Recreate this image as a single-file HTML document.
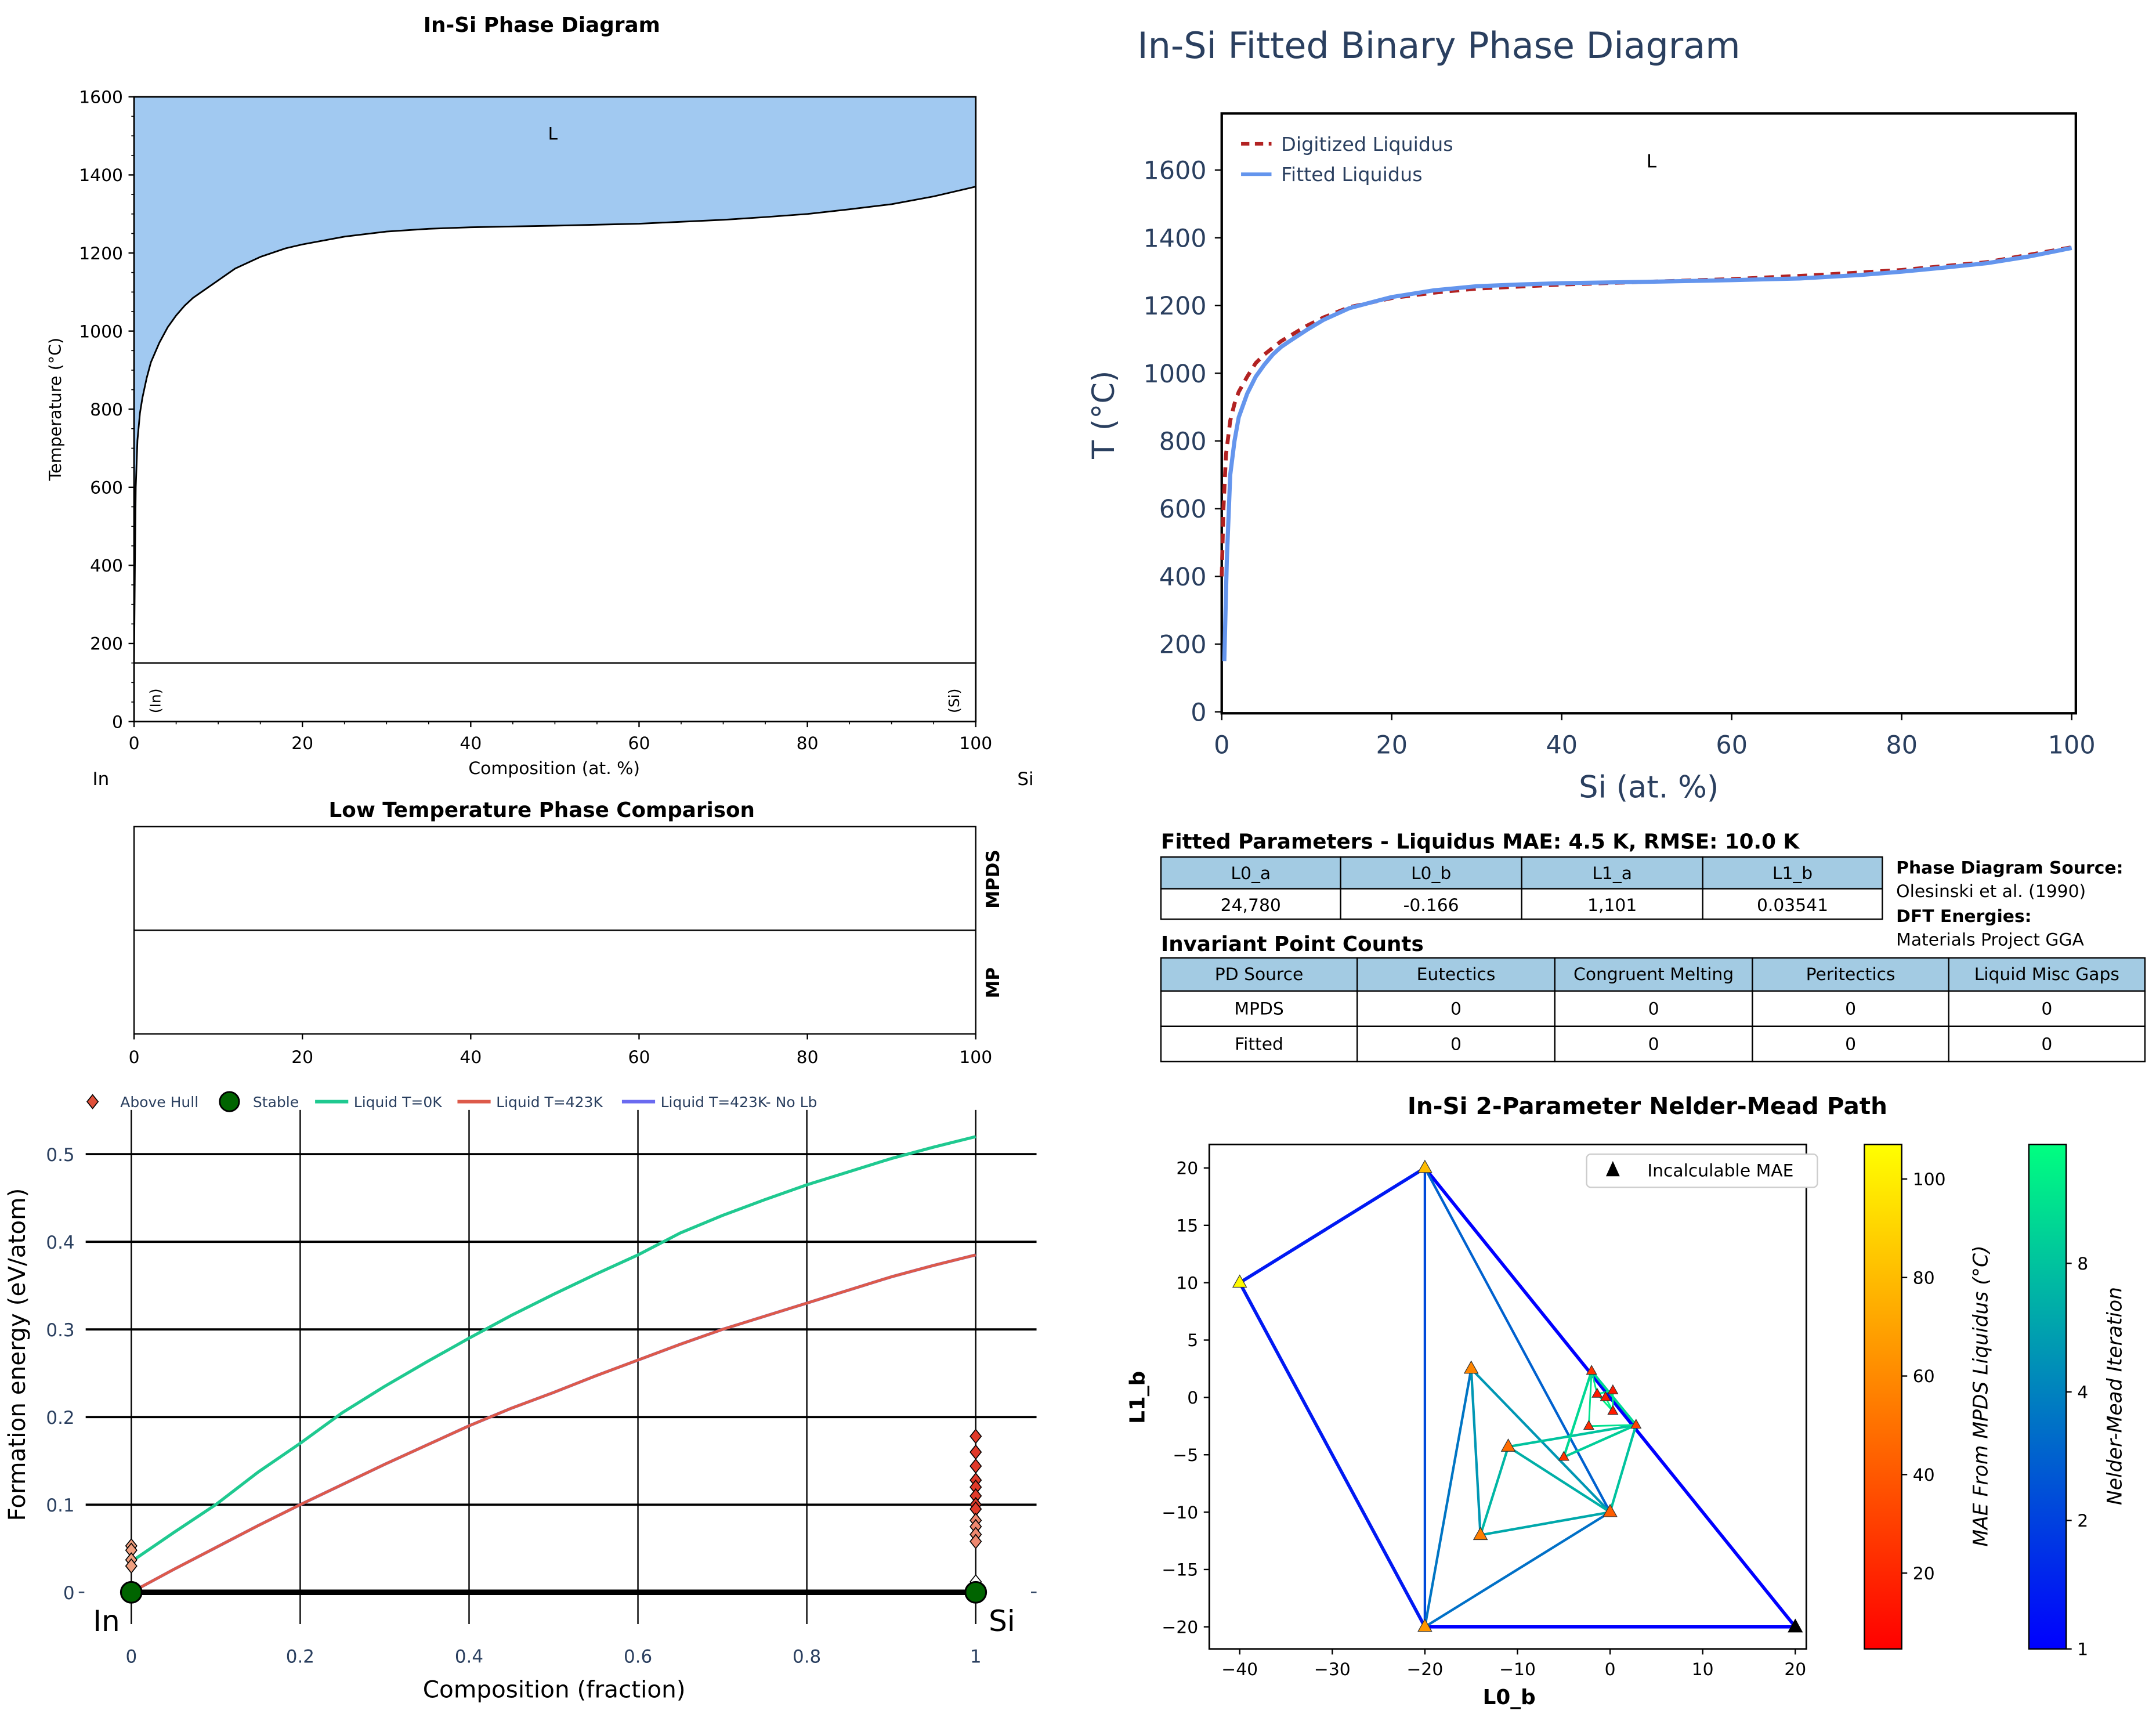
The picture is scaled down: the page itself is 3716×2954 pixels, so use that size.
<!DOCTYPE html>
<html><head><meta charset="utf-8"><style>
html,body{margin:0;padding:0;background:#fff;}
svg{display:block;}
text{font-family:"DejaVu Sans","Liberation Sans",sans-serif;}
polyline{stroke-linejoin:round;}
</style></head><body>
<svg id="root" width="3716" height="2954" viewBox="0 0 1560 1240" xmlns="http://www.w3.org/2000/svg">
<defs>
<linearGradient id="autumn" x1="0" y1="1" x2="0" y2="0"><stop offset="0" stop-color="#ff0000"/><stop offset="1" stop-color="#ffff00"/></linearGradient>
<linearGradient id="winter" x1="0" y1="1" x2="0" y2="0"><stop offset="0" stop-color="#0000ff"/><stop offset="1" stop-color="#00ff80"/></linearGradient>
</defs>
<g id="g1"></g>
<g id="g2"></g>
<g id="g3"></g>
<g id="g4"></g>
<g id="g5"></g>
<g id="g6"></g>
</svg>
<script>
// ---- data ----
const liqX = [0, 0.1, 0.2, 0.4, 0.7, 1, 1.5, 2, 3, 4, 5, 6, 7, 8, 10, 12, 15, 18, 20, 25, 30, 35, 40, 50, 60, 70, 75, 80, 85, 90, 95, 100];
const liqT = [150, 400, 600, 720, 790, 830, 880, 920, 970, 1010, 1040, 1065, 1085, 1100, 1130, 1160, 1190, 1212, 1222, 1242, 1255, 1262, 1266, 1270, 1275, 1285, 1292, 1300, 1312, 1325, 1345, 1370];
const digX = [0, 0.2, 0.5, 1, 1.5, 2, 3, 4, 5, 7, 10, 12, 15, 20, 25, 30, 40, 50, 60, 70, 80, 90, 100];
const digT = [400, 600, 760, 860, 910, 945, 990, 1030, 1055, 1095, 1140, 1165, 1195, 1222, 1238, 1250, 1262, 1270, 1278, 1290, 1305, 1328, 1372];
const fitX = [0.3, 0.6, 1, 1.5, 2, 3, 4, 5, 6, 7, 8, 10, 12, 15, 18, 20, 25, 30, 35, 40, 50, 60, 68, 75, 80, 85, 90, 95, 100];
const fitT = [150, 450, 700, 800, 870, 940, 990, 1025, 1055, 1078, 1095, 1128, 1158, 1192, 1212, 1225, 1245, 1257, 1262, 1266, 1270, 1275, 1280, 1290, 1300, 1312, 1325, 1345, 1370];
const phaseTicksT = [0, 200, 400, 600, 800, 1000, 1200, 1400, 1600];
const compTicks = [0, 20, 40, 60, 80, 100];
const fracX = [0, 0.05, 0.1, 0.15, 0.2, 0.25, 0.3, 0.35, 0.4, 0.45, 0.5, 0.55, 0.6, 0.65, 0.7, 0.75, 0.8, 0.85, 0.9, 0.95, 1.0];
const liq0K = [0.035, 0.068, 0.1, 0.137, 0.17, 0.205, 0.235, 0.263, 0.29, 0.316, 0.34, 0.363, 0.385, 0.41, 0.43, 0.448, 0.465, 0.48, 0.495, 0.508, 0.52];
const liq423 = [0, 0.026, 0.051, 0.076, 0.1, 0.123, 0.146, 0.168, 0.19, 0.21, 0.228, 0.247, 0.265, 0.283, 0.3, 0.315, 0.33, 0.345, 0.36, 0.373, 0.385];
const hullIn = [0.053, 0.048, 0.037, 0.03];
const hullSi = [0.178, 0.16, 0.144, 0.128, 0.12, 0.11, 0.1, 0.095, 0.082, 0.075, 0.066, 0.058];
const energyTicks = [0, 0.1, 0.2, 0.3, 0.4, 0.5];
const fracTicks = [0, 0.2, 0.4, 0.6, 0.8, 1];
const nmPtsX = [-20, -40, -20, -15, -11, -14, 0, -2, 2.8, -5, -2.3, -1.4, 0.3, 0.3, -0.5];
const nmPtsY = [20, 10, -20, 2.5, -4.3, -12, -10, 2.3, -2.4, -5.2, -2.5, 0.3, 0.6, -1.2, 0];
const nmPtsMAE = [80, 105, 65, 58, 48, 55, 42, 25, 30, 25, 22, 15, 15, 15, 15];
const nmSegA = [[-40,10],[-20,20],[-20,-20],[-40,10],[-20,20],[-20,20],[-20,-20],[-20,-20],[-15,2.5],[-15,2.5],[-14,-12],[-14,-12],[-11,-4.3],[-11,-4.3],[0,-10],[-5,-5.2],[-5,-5.2],[-2,2.3],[-2,2.3],[-2.3,-2.5],[-2,2.3],[-1.4,0.3],[0.3,0.6],[-1.4,0.3],[0.3,-1.2]];
const nmSegB = [[-20,20],[20,-20],[20,-20],[-20,-20],[-20,-20],[0,-10],[0,-10],[-15,2.5],[0,-10],[-14,-12],[0,-10],[-11,-4.3],[0,-10],[2.8,-2.4],[2.8,-2.4],[2.8,-2.4],[-2,2.3],[2.8,-2.4],[-2.3,-2.5],[2.8,-2.4],[-1.4,0.3],[0.3,0.6],[0.3,-1.2],[0.3,-1.2],[-0.5,0]];
const nmSegIter = [1.3,1,1,1.3,2.2,2.8,3.3,3.5,5,5,6,7,6.5,8,8,9,10,10,11,11,12,12,13,13,14];
const nmTicksX = [-40, -30, -20, -10, 0, 10, 20];
const nmTicksY = [-20, -15, -10, -5, 0, 5, 10, 15, 20];
const maeTicks = [20, 40, 60, 80, 100];
const iterTicks = [1, 2, 4, 8];
const params = ["L0_a","L0_b","L1_a","L1_b"];
const paramVals = ["24,780","-0.166","1,101","0.03541"];
const invHead = ["PD Source","Eutectics","Congruent Melting","Peritectics","Liquid Misc Gaps"];
const invRows = [["MPDS","0","0","0","0"],["Fitted","0","0","0","0"]];

const NS = "http://www.w3.org/2000/svg";
function mk(parent, tag, attrs, txt){
  const e = document.createElementNS(NS, tag);
  for (const k in attrs) e.setAttribute(k, attrs[k]);
  if (txt !== undefined) e.textContent = txt;
  parent.appendChild(e); return e;
}
function pts(xs, ys, fx, fy){ return xs.map((v,i)=>fx(v).toFixed(2)+","+fy(ys[i]).toFixed(2)).join(" "); }

// ---- Panel 1 ----
(function(){
  const g = document.getElementById('g1');
  const x = v => 97 + v*6.09, y = t => 522 - t*0.2825;
  let e = mk(g,'text',{x:392,y:23,'text-anchor':'middle','font-size':15,'font-weight':'bold'},'In-Si Phase Diagram');
   
  let d = 'M'+x(0)+','+y(1600)+' L'+pts(liqX,liqT,x,y).replace(/ /g,' L')+' L'+x(100)+','+y(1600)+' Z';
  e = mk(g,'path',{d:d,fill:'#a1c9f1',stroke:'none'});
   
  e = mk(g,'polyline',{points:pts(liqX,liqT,x,y),fill:'none',stroke:'#000','stroke-width':1.2});
   
  e = mk(g,'line',{x1:x(0),x2:x(100),y1:y(150),y2:y(150),stroke:'#000','stroke-width':1});
   
  e = mk(g,'rect',{x:97,y:70,width:609,height:452,fill:'none',stroke:'#000','stroke-width':1.2});
   
  phaseTicksT.forEach(t=>{
    mk(g,'line',{x1:93,x2:97,y1:y(t),y2:y(t),stroke:'#000'});
    e = mk(g,'text',{x:89,y:y(t)+4.5,'text-anchor':'end','font-size':12.5},String(t));
     
  });
  for(let t=50;t<1600;t+=50){ if(t%200) mk(g,'line',{x1:95,x2:97,y1:y(t),y2:y(t),stroke:'#000','stroke-width':0.7}); }
  compTicks.forEach(c=>{
    mk(g,'line',{x1:x(c),x2:x(c),y1:522,y2:526,stroke:'#000'});
    e = mk(g,'text',{x:x(c),y:542,'text-anchor':'middle','font-size':12.5},String(c));
     
  });
  for(let c=5;c<100;c+=5){ if(c%20) mk(g,'line',{x1:x(c),x2:x(c),y1:522,y2:524,stroke:'#000','stroke-width':0.7}); }
  e = mk(g,'text',{x:401,y:560,'text-anchor':'middle','font-size':12.5},'Composition (at. %)');
   
  e = mk(g,'text',{x:44,y:296,'text-anchor':'middle','font-size':12,transform:'rotate(-90 44 296)'},'Temperature (°C)');
   
  e = mk(g,'text',{x:400,y:101,'text-anchor':'middle','font-size':12.5},'L');
   
  e = mk(g,'text',{x:116,y:507,'text-anchor':'middle','font-size':10.5,transform:'rotate(-90 116 507)'},'(In)');
   
  e = mk(g,'text',{x:694,y:507,'text-anchor':'middle','font-size':10.5,transform:'rotate(-90 694 507)'},'(Si)');
   
  e = mk(g,'text',{x:73,y:568,'text-anchor':'middle','font-size':13},'In');
   
  e = mk(g,'text',{x:742,y:568,'text-anchor':'middle','font-size':13},'Si');
   
})();

// ---- Panel 2 ----
(function(){
  const g = document.getElementById('g2');
  const c = '#2a3f5f';
  const x = v => 884 + v*6.15, y = t => 515 - t*0.245;
  let e = mk(g,'text',{x:823,y:42,'font-size':26,fill:c},'In-Si Fitted Binary Phase Diagram');
   
  e = mk(g,'rect',{x:884,y:82,width:618,height:434,fill:'#fff',stroke:'#000','stroke-width':1.8});
   
  phaseTicksT.forEach(t=>{
    mk(g,'line',{x1:879,x2:884,y1:y(t),y2:y(t),stroke:'#000'});
    e = mk(g,'text',{x:873,y:y(t)+6.5,'text-anchor':'end','font-size':18,fill:c},String(t));
     
  });
  compTicks.forEach(v=>{
    mk(g,'line',{x1:x(v),x2:x(v),y1:516,y2:521,stroke:'#000'});
    e = mk(g,'text',{x:x(v),y:545,'text-anchor':'middle','font-size':18,fill:c},String(v));
     
  });
  e = mk(g,'text',{x:1193,y:577,'text-anchor':'middle','font-size':22,fill:c},'Si (at. %)');
   
  e = mk(g,'text',{x:806,y:300,'text-anchor':'middle','font-size':22,fill:c,transform:'rotate(-90 806 300)'},'T (°C)');
   
  e = mk(g,'polyline',{points:pts(digX,digT,x,y),fill:'none',stroke:'#b22222','stroke-width':2.8,'stroke-dasharray':'7,5'});
   
  e = mk(g,'polyline',{points:pts(fitX,fitT,x,y),fill:'none',stroke:'#6495ed','stroke-width':3});
   
  e = mk(g,'text',{x:1195,y:121,'text-anchor':'middle','font-size':13},'L');
   
  mk(g,'line',{x1:898,x2:920,y1:104,y2:104,stroke:'#b22222','stroke-width':2.5,'stroke-dasharray':'6,4'});
  e = mk(g,'text',{x:927,y:109,'font-size':14,fill:c},'Digitized Liquidus');
   
  mk(g,'line',{x1:898,x2:920,y1:126,y2:126,stroke:'#6495ed','stroke-width':2.5});
  e = mk(g,'text',{x:927,y:131,'font-size':14,fill:c},'Fitted Liquidus');
   
})();

// ---- Panel 3 ----
(function(){
  const g = document.getElementById('g3');
  const x = v => 97 + v*6.09;
  let e = mk(g,'text',{x:392,y:591,'text-anchor':'middle','font-size':15,'font-weight':'bold'},'Low Temperature Phase Comparison');
   
  e = mk(g,'rect',{x:97,y:598,width:609,height:150,fill:'none',stroke:'#000','stroke-width':1});
   
  mk(g,'line',{x1:97,x2:706,y1:673,y2:673,stroke:'#000'});
  e = mk(g,'text',{x:723,y:636,'text-anchor':'middle','font-size':13,'font-weight':'bold',transform:'rotate(-90 723 636)'},'MPDS');
   
  e = mk(g,'text',{x:723,y:711,'text-anchor':'middle','font-size':13,'font-weight':'bold',transform:'rotate(-90 723 711)'},'MP');
   
  compTicks.forEach(v=>{
    mk(g,'line',{x1:x(v),x2:x(v),y1:748,y2:752,stroke:'#000'});
    e = mk(g,'text',{x:x(v),y:769,'text-anchor':'middle','font-size':12.5},String(v));
     
  });
})();

// ---- Panel 4 ----
(function(){
  const g = document.getElementById('g4');
  const c = '#2a3f5f';
  const x = v => 95 + v*611, y = v => 1152 - v*634;
  energyTicks.forEach(v=>{
    if(v>0){ let e = mk(g,'line',{x1:62,x2:750,y1:y(v),y2:y(v),stroke:'#000','stroke-width':1.6});
        }
    let e = mk(g,'text',{x:54,y:y(v)+5,'text-anchor':'end','font-size':13,fill:c},String(v));
     
  });
  mk(g,'line',{x1:57,x2:61,y1:y(0),y2:y(0),stroke:c});
  mk(g,'line',{x1:746,x2:750,y1:y(0),y2:y(0),stroke:c});
  fracTicks.forEach(v=>{
    let e = mk(g,'line',{x1:x(v),x2:x(v),y1:803,y2:1175,stroke:'#000','stroke-width':1});
     
    e = mk(g,'text',{x:x(v),y:1203,'text-anchor':'middle','font-size':13,fill:c},String(v));
     
  });
  let e = mk(g,'polyline',{points:pts(fracX,liq0K,x,y),fill:'none',stroke:'#1fc990','stroke-width':2.2});
   
  e = mk(g,'polyline',{points:pts(fracX,liq423,x,y),fill:'none',stroke:'#6a6af0','stroke-width':2.2});
   
  e = mk(g,'polyline',{points:pts(fracX,liq423,x,y),fill:'none',stroke:'#dd5a4a','stroke-width':2});
   
  e = mk(g,'line',{x1:x(0),x2:x(1),y1:y(0),y2:y(0),stroke:'#000','stroke-width':4});
   
  function dia(cx,cy,fill){ return mk(g,'path',{d:`M${cx},${cy-5} L${cx+4},${cy} L${cx},${cy+5} L${cx-4},${cy} Z`,fill:fill,stroke:'#000','stroke-width':0.7}); }
  hullIn.forEach(v=>{ let d = dia(x(0),y(v),'#f0a080');
      });
  hullSi.forEach((v,i)=>{ const f = v>0.09 ? '#e03a2a' : '#ee8870'; let d = dia(x(1),y(v),f);
      });
  e = dia(x(1),y(0.012),'#fff');
   
  [0,1].forEach(v=>{ let s = mk(g,'circle',{cx:x(v),cy:y(0),r:7.5,fill:'#006400',stroke:'#000','stroke-width':1.3});
      });
  e = mk(g,'text',{x:77,y:1180,'text-anchor':'middle','font-size':21},'In');
   
  e = mk(g,'text',{x:725,y:1180,'text-anchor':'middle','font-size':21},'Si');
   
  e = mk(g,'text',{x:401,y:1228,'text-anchor':'middle','font-size':17},'Composition (fraction)');
   
  e = mk(g,'text',{x:18,y:980,'text-anchor':'middle','font-size':17,transform:'rotate(-90 18 980)'},'Formation energy (eV/atom)');
   
  let d = dia(67,797,'#e0503a');  
  e = mk(g,'text',{x:87,y:801,'font-size':10.5,fill:c},'Above Hull');
   
  mk(g,'circle',{cx:166,cy:797,r:7,fill:'#006400',stroke:'#000','stroke-width':1.2});
  e = mk(g,'text',{x:183,y:801,'font-size':10.5,fill:c},'Stable');
   
  mk(g,'line',{x1:228,x2:252,y1:797,y2:797,stroke:'#1fc990','stroke-width':2.5});
  e = mk(g,'text',{x:256,y:801,'font-size':10.5,fill:c},'Liquid T=0K');
   
  mk(g,'line',{x1:331,x2:355,y1:797,y2:797,stroke:'#dd5a4a','stroke-width':2.5});
  e = mk(g,'text',{x:359,y:801,'font-size':10.5,fill:c},'Liquid T=423K');
   
  mk(g,'line',{x1:450,x2:474,y1:797,y2:797,stroke:'#6a6af0','stroke-width':2.5});
  e = mk(g,'text',{x:478,y:801,'font-size':10.5,fill:c},'Liquid T=423K- No Lb');
   
})();

// ---- Panel 5 tables ----
(function(){
  const g = document.getElementById('g5');
  const hb = '#a3cbe3';
  let e = mk(g,'text',{x:840,y:614,'font-size':15,'font-weight':'bold'},'Fitted Parameters - Liquidus MAE: 4.5 K, RMSE: 10.0 K');
   
  const c1 = [840,970,1101,1232,1362];
  params.forEach((p,i)=>{
    mk(g,'rect',{x:c1[i],y:620,width:c1[i+1]-c1[i],height:23,fill:hb,stroke:'#000','stroke-width':1});
    e = mk(g,'text',{x:(c1[i]+c1[i+1])/2,y:636,'text-anchor':'middle','font-size':12.5},p);
     
    mk(g,'rect',{x:c1[i],y:643,width:c1[i+1]-c1[i],height:22,fill:'#fff',stroke:'#000','stroke-width':1});
    e = mk(g,'text',{x:(c1[i]+c1[i+1])/2,y:659,'text-anchor':'middle','font-size':12.5},paramVals[i]);
     
  });
  e = mk(g,'text',{x:1372,y:632,'font-size':12.5,'font-weight':'bold'},'Phase Diagram Source:');
   
  e = mk(g,'text',{x:1372,y:649,'font-size':12.5},'Olesinski et al. (1990)');
   
  e = mk(g,'text',{x:1372,y:667,'font-size':12.5,'font-weight':'bold'},'DFT Energies:');
   
  e = mk(g,'text',{x:1372,y:684,'font-size':12.5},'Materials Project GGA');
   
  e = mk(g,'text',{x:840,y:688,'font-size':15,'font-weight':'bold'},'Invariant Point Counts');
   
  const c2 = [840,982,1125,1268,1410,1552];
  invHead.forEach((h,i)=>{
    mk(g,'rect',{x:c2[i],y:693,width:c2[i+1]-c2[i],height:24,fill:hb,stroke:'#000','stroke-width':1});
    e = mk(g,'text',{x:(c2[i]+c2[i+1])/2,y:709,'text-anchor':'middle','font-size':12.5},h);
     
  });
  invRows.forEach((r,j)=>{
    r.forEach((v,i)=>{
      const yy = 717 + j*25.5;
      mk(g,'rect',{x:c2[i],y:yy,width:c2[i+1]-c2[i],height:25.5,fill:'#fff',stroke:'#000','stroke-width':1});
      e = mk(g,'text',{x:(c2[i]+c2[i+1])/2,y:yy+17,'text-anchor':'middle','font-size':12.5},v);
       
    });
  });
})();

// ---- Panel 6 ----
(function(){
  const g = document.getElementById('g6');
  const x = v => 897 + (v+40)*6.7, y = v => 845 + (20-v)*8.3;
  const maeMin = 4.6, maeMax = 107;
  const maeY = m => 1193 - (m-maeMin)/(maeMax-maeMin)*365;
  const itY = it => 1193 - Math.log2(it)*93;
  const itTop = Math.pow(2, 365/93);
  const winter = it => { const t = Math.min(1, Math.log2(it)/Math.log2(itTop)); return `rgb(0,${Math.round(255*t)},${Math.round(255*(1-0.5*t))})`; };
  const autumn = m => { const t = Math.max(0,Math.min(1,(m-maeMin)/(maeMax-maeMin))); return `rgb(255,${Math.round(255*t)},0)`; };
  let e = mk(g,'text',{x:1192,y:806,'text-anchor':'middle','font-size':17,'font-weight':'bold'},'In-Si 2-Parameter Nelder-Mead Path');
   
  e = mk(g,'rect',{x:875,y:828,width:432,height:365,fill:'#fff',stroke:'#000','stroke-width':1.2});
   
  nmSegA.forEach((a,i)=>{
    const b = nmSegB[i];
    let s = mk(g,'line',{x1:x(a[0]),y1:y(a[1]),x2:x(b[0]),y2:y(b[1]),stroke:winter(nmSegIter[i]),'stroke-width':nmSegIter[i]<2?2.4:(nmSegIter[i]>10?1.2:1.8)});
     
  });
  nmPtsX.forEach((px,i)=>{
    const cx = x(px), cy = y(nmPtsY[i]), r = i<7 ? 5.5 : 4;
    let t = mk(g,'path',{d:`M${cx},${cy-r} L${cx+r*0.9},${cy+r*0.6} L${cx-r*0.9},${cy+r*0.6} Z`,fill:autumn(nmPtsMAE[i]),stroke:'#333','stroke-width':0.5});
     
  });
  const bx = x(20), by = y(-20);
  e = mk(g,'path',{d:`M${bx},${by-6} L${bx+5.5},${by+4} L${bx-5.5},${by+4} Z`,fill:'#000'});
   
  nmTicksX.forEach(v=>{
    mk(g,'line',{x1:x(v),x2:x(v),y1:1193,y2:1197,stroke:'#000'});
    e = mk(g,'text',{x:x(v),y:1212,'text-anchor':'middle','font-size':12.5},v<0?'\u2212'+(-v):String(v));
     
  });
  nmTicksY.forEach(v=>{
    mk(g,'line',{x1:871,x2:875,y1:y(v),y2:y(v),stroke:'#000'});
    e = mk(g,'text',{x:867,y:y(v)+4.5,'text-anchor':'end','font-size':12.5},v<0?'\u2212'+(-v):String(v));
     
  });
  e = mk(g,'text',{x:1092,y:1233,'text-anchor':'middle','font-size':15,'font-weight':'bold'},'L0_b');
   
  e = mk(g,'text',{x:828,y:1011,'text-anchor':'middle','font-size':15,'font-weight':'bold',transform:'rotate(-90 828 1011)'},'L1_b');
   
  e = mk(g,'rect',{x:1148,y:835,width:167,height:24,rx:3,fill:'#fff',stroke:'#ccc','stroke-width':1});
   
  mk(g,'path',{d:'M1167,840 L1172,851 L1162,851 Z',fill:'#000'});
  e = mk(g,'text',{x:1192,y:851,'font-size':12.5},'Incalculable MAE');
   
  e = mk(g,'rect',{x:1349,y:828,width:27,height:365,fill:'url(#autumn)',stroke:'#000','stroke-width':1});
   
  maeTicks.forEach(m=>{
    mk(g,'line',{x1:1376,x2:1380,y1:maeY(m),y2:maeY(m),stroke:'#000'});
    e = mk(g,'text',{x:1384,y:maeY(m)+4.5,'font-size':12.5},String(m));
     
  });
  e = mk(g,'text',{x:1438,y:1010,'text-anchor':'middle','font-size':14.5,'font-style':'italic',transform:'rotate(-90 1438 1010)'},'MAE From MPDS Liquidus (°C)');
   
  e = mk(g,'rect',{x:1468,y:828,width:27,height:365,fill:'url(#winter)',stroke:'#000','stroke-width':1});
   
  iterTicks.forEach(it=>{
    mk(g,'line',{x1:1495,x2:1499,y1:itY(it),y2:itY(it),stroke:'#000'});
    e = mk(g,'text',{x:1503,y:itY(it)+4.5,'font-size':12.5},String(it));
     
  });
  e = mk(g,'text',{x:1535,y:1010,'text-anchor':'middle','font-size':14.5,'font-style':'italic',transform:'rotate(-90 1535 1010)'},'Nelder-Mead Iteration');
   
})();
</script>
</body></html>
